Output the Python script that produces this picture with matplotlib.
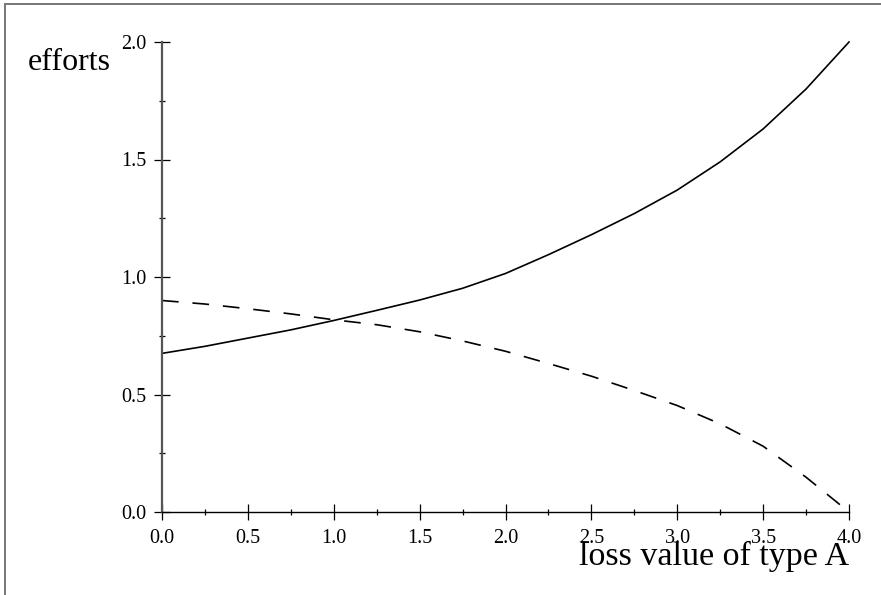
import matplotlib
matplotlib.use("Agg")
import matplotlib.pyplot as plt
from matplotlib.lines import Line2D
from matplotlib.ticker import MultipleLocator, FormatStrFormatter

# ---- data ----
x_vals = [0.0, 0.25, 0.5, 0.75, 1.0, 1.25, 1.5, 1.75, 2.0,
          2.25, 2.5, 2.75, 3.0, 3.25, 3.5, 3.75, 4.0]
solid_vals = [0.675, 0.705, 0.74, 0.775, 0.815, 0.858, 0.902, 0.952, 1.015,
              1.095, 1.18, 1.27, 1.37, 1.49, 1.63, 1.80, 2.0]
dashed_vals = [0.90, 0.885, 0.865, 0.843, 0.818, 0.797, 0.767, 0.728, 0.684,
               0.632, 0.578, 0.517, 0.453, 0.375, 0.28, 0.148, 0.0]
x_label = "loss value of type A"
y_label = "efforts"

plt.rcParams['font.family'] = ['Liberation Serif', 'DejaVu Serif']
plt.rcParams['lines.scale_dashes'] = False

W, H = 881, 595
fig = plt.figure(figsize=(W / 100, H / 100), dpi=100)
ax = fig.add_axes([162 / W, 1 - 512 / H, (849 - 162) / W, (512 - 42) / H])

ax.plot(x_vals, solid_vals, color='black', lw=1.2, clip_on=False)
ax.plot(x_vals, dashed_vals, color='black', lw=1.2, dashes=(12, 10), clip_on=False)

ax.set_xlim(0, 4)
ax.set_ylim(0, 2)
for s in ('top', 'right'):
    ax.spines[s].set_visible(False)
ax.spines['left'].set_color('#555555')
ax.spines['left'].set_linewidth(1.6)
ax.spines['bottom'].set_color('black')
ax.spines['bottom'].set_linewidth(1.0)

ax.xaxis.set_major_locator(MultipleLocator(0.5))
ax.xaxis.set_minor_locator(MultipleLocator(0.25))
ax.yaxis.set_major_locator(MultipleLocator(0.5))
ax.yaxis.set_minor_locator(MultipleLocator(0.25))
ax.xaxis.set_major_formatter(FormatStrFormatter('%.1f'))
ax.yaxis.set_major_formatter(FormatStrFormatter('%.1f'))

ax.tick_params(which='major', direction='inout', length=11.5, width=0.9,
               labelsize=14.5, color='black')
ax.tick_params(which='minor', direction='inout', length=4.3, width=0.9, color='black')
ax.tick_params(axis='x', which='major', pad=6.5)
ax.tick_params(axis='y', which='major', pad=5.5)

fig.text(28 / W, 1 - 70 / H, y_label, fontsize=23, ha='left', va='baseline')
fig.text(849 / W, 1 - 565 / H, x_label, fontsize=24.5, ha='right', va='baseline')

# outer frame (top and left edges)
fig.add_artist(Line2D([4.5 / W, 1.0], [1 - 3.5 / H, 1 - 3.5 / H],
                      transform=fig.transFigure, color='#777777', lw=1.4))
fig.add_artist(Line2D([4.5 / W, 4.5 / W], [0.0, 1 - 3.5 / H],
                      transform=fig.transFigure, color='#777777', lw=1.4))

fig.savefig("out.png", dpi=100)
